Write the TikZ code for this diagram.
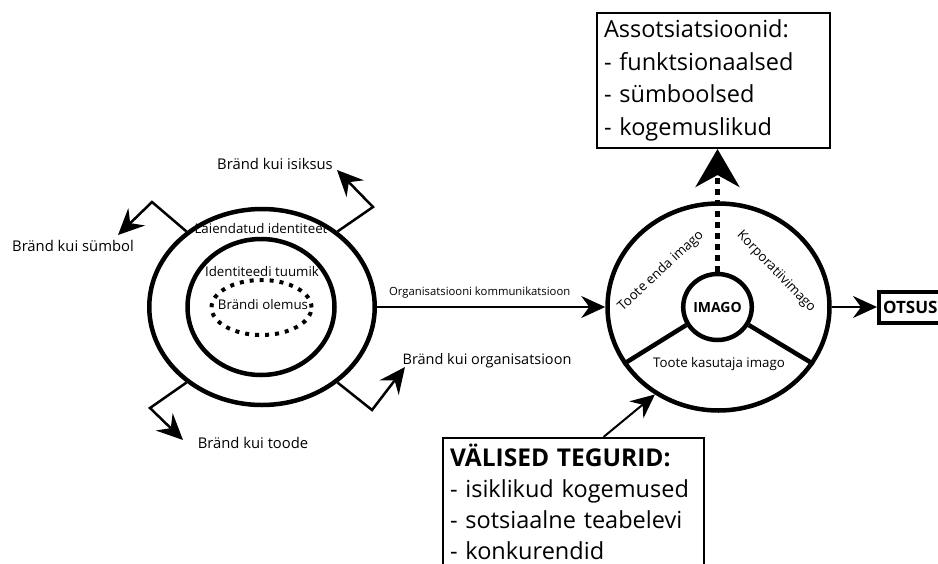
\documentclass[tikz,border=0pt]{standalone}
\usepackage{fontspec}
\setmainfont{Open Sans}
\usetikzlibrary{arrows.meta,shapes.geometric}

\begin{document}
\begin{tikzpicture}[x=1pt,y=-1pt,
  ring/.style={draw, ellipse, line width=4.5pt, inner sep=0pt},
  lbl/.style={font=\fontsize{14.8}{16}\selectfont, inner sep=0pt},
  small/.style={font=\fontsize{13.3}{15}\selectfont, inner sep=0pt},
  elbow/.style={line width=2.5pt, line join=miter,
    -{Stealth[length=26pt,width=24pt,inset=9pt]}},
  thinarrow/.style={line width=2pt,
    -{Stealth[length=24pt,width=22pt,inset=8pt]}},
  listbox/.style={draw, line width=2pt, align=left, anchor=north west,
    inner xsep=7pt, inner ysep=5pt}
]
\useasboundingbox (0,0) rectangle (938,563);

% ---- brand identity rings ----
\node[ring, minimum width=225.5pt, minimum height=196pt] (outer) at (262,307) {};
\node[ring, minimum width=147pt, minimum height=136pt] (inner) at (261,307) {};
\node[draw, ellipse, inner sep=0pt, line width=4pt, dash pattern=on 4pt off 6pt,
      minimum width=100pt, minimum height=55pt] (core) at (261.5,307.5) {};

\node[small] (lext)  at (261,229) {Laiendatud identiteet};
\node[small] (lcore) at (262,272) {Identiteedi tuumik};
\node[small] (lbeing) at (263,305) {Brändi olemus};

% ---- four faces of the brand ----
\coordinate (symK) at (152,202);  \coordinate (symT) at (118,235);
\coordinate (isiK) at (373,207);  \coordinate (isiT) at (337,170);
\coordinate (tooK) at (150,408);  \coordinate (tooT) at (183,440);
\coordinate (orgK) at (372,410);  \coordinate (orgT) at (405,367);

\draw[elbow] (outer.135) -- (symK) -- (symT);
\draw[elbow] (outer.45)  -- (isiK) -- (isiT);
\draw[elbow] (outer.225) -- (tooK) -- (tooT);
\draw[elbow] (outer.315) -- (orgK) -- (orgT);

\node[lbl] (tsym) at (73,246)  {Bränd kui sümbol};
\node[lbl] (tisi) at (275,164) {Bränd kui isiksus};
\node[lbl] (ttoo) at (253,443) {Bränd kui toode};
\node[lbl, font=\fontsize{14.5}{16}\selectfont] (torg) at (487,361) {Bränd kui organisatsioon};

% ---- image wheel ----
\node[ring, minimum width=222pt, minimum height=207pt] (wheel) at (718.5,307) {};
\node[ring, minimum size=66pt, font=\bfseries\fontsize{14}{16}\selectfont] (imago) at (717.5,307) {IMAGO};
\draw[line width=4.5pt] (imago.210) -- (wheel.211);
\draw[line width=4.5pt] (imago.330) -- (wheel.329);

\node[small, rotate=43]  (lown)  at (661,271) {Toote enda imago};
\node[small, rotate=-46] (lcorp) at (776,272) {Korporatiivimago};
\node[small]             (luser) at (719,364) {Toote kasutaja imago};

% ---- communication link ----
\draw[thinarrow] (outer.east) -- (wheel.west)
  node[inner sep=0pt, font=\fontsize{11.3}{13}\selectfont, pos=0.45, above=8pt] (lcomm)
  {Organisatsiooni kommunikatsioon};

% ---- associations ----
\node[listbox, text width=219pt, minimum height=135pt,
  font=\fontsize{23.5}{32.5}\selectfont] (assoc) at (596,12)
  {Assotsiatsioonid:\\- funktsionaalsed\\- sümboolsed\\- kogemuslikud};
\draw[line width=4.5pt, dash pattern=on 6pt off 5pt,
  -{Stealth[length=38pt,width=44pt,inset=12pt]}]
  (imago.north) -- (imago.north |- assoc.south);

% ---- decision ----
\node[draw, line width=4pt, anchor=west, minimum height=31pt, inner xsep=4pt,
  text width=80pt, align=left,
  font=\bfseries\fontsize{17}{19}\selectfont] (otsus) at (877,307) {OTSUS};
\draw[thinarrow] (wheel.east) -- (otsus.west);

% ---- external factors ----
\node[listbox, text width=247pt, inner ysep=6pt,
  font=\fontsize{23.5}{31}\selectfont] (extf) at (442,437)
  {{\bfseries\fontsize{24.5}{31}\selectfont VÄLISED TEGURID:}\\
   - isiklikud kogemused\\
   - sotsiaalne teabelevi\\
   - konkurendid\\ \mbox{}};
\draw[thinarrow] ([xshift=30pt]extf.north) -- (wheel.234);
\end{tikzpicture}
\end{document}
